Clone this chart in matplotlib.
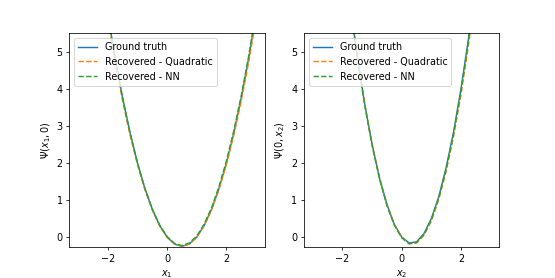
import matplotlib
matplotlib.use('Agg')
import matplotlib.pyplot as plt
import numpy as np


# sample points
x = np.array([-3, -2.75, -2.5, -2.25, -2, -1.75, -1.5, -1.25, -1, -0.75, -0.5, -0.25, 0,
              0.25, 0.5, 0.75, 1, 1.25, 1.5, 1.75, 2, 2.25, 2.5, 2.75, 3])

# Psi(x1, 0)
truth_x1 = [12.00, 10.31, 8.75, 7.31, 6.00, 4.81, 3.75, 2.81, 2.00, 1.31, 0.75, 0.31, 0.00,
            -0.19, -0.25, -0.19, 0.00, 0.31, 0.75, 1.31, 2.00, 2.81, 3.75, 4.81, 6.00]
quad_x1 = [11.76, 10.10, 8.57, 7.16, 5.88, 4.71, 3.67, 2.75, 1.96, 1.28, 0.73, 0.30, -0.01,
           -0.19, -0.25, -0.19, -0.01, 0.30, 0.73, 1.28, 1.96, 2.75, 3.67, 4.71, 5.88]
nn_x1 = [11.95, 10.27, 8.71, 7.28, 5.97, 4.79, 3.73, 2.80, 1.99, 1.31, 0.75, 0.32, 0.01,
         -0.17, -0.23, -0.16, 0.03, 0.35, 0.79, 1.36, 2.05, 2.87, 3.81, 4.88, 6.07]

# Psi(0, x2)
truth_x2 = [16.50, 14.09, 11.88, 9.84, 8.00, 6.34, 4.88, 3.59, 2.50, 1.59, 0.88, 0.34, 0.00,
            -0.16, -0.13, 0.09, 0.50, 1.09, 1.88, 2.84, 4.00, 5.34, 6.88, 8.59, 10.50]
quad_x2 = [16.40, 14.02, 11.82, 9.80, 7.97, 6.33, 4.87, 3.59, 2.50, 1.60, 0.88, 0.34, -0.01,
           -0.18, -0.16, 0.05, 0.44, 1.02, 1.78, 2.72, 3.85, 5.17, 6.67, 8.35, 10.22]
nn_x2 = [16.39, 14.00, 11.79, 9.77, 7.94, 6.29, 4.83, 3.56, 2.47, 1.57, 0.85, 0.32, -0.02,
         -0.18, -0.15, 0.07, 0.47, 1.06, 1.83, 2.79, 3.94, 5.27, 6.79, 8.50, 10.39]

dpi = 69.4
fig, axes = plt.subplots(1, 2, figsize=(555 / dpi, 278 / dpi), dpi=dpi)

panels = [
    (truth_x1, quad_x1, nn_x1, r'$x_1$', r'$\Psi(x_1, 0)$'),
    (truth_x2, quad_x2, nn_x2, r'$x_2$', r'$\Psi(0, x_2)$'),
]

for ax, (truth, quad, nn, xlab, ylab) in zip(axes, panels):
    ax.plot(x, truth, label='Ground truth')
    ax.plot(x, quad, '--', label='Recovered - Quadratic')
    ax.plot(x, nn, '--', label='Recovered - NN')
    ax.set_ylim(-0.28, 5.5)
    ax.set_xlabel(xlab)
    ax.set_ylabel(ylab)
    ax.legend(loc='upper left')

plt.savefig('out.png', dpi=dpi)
